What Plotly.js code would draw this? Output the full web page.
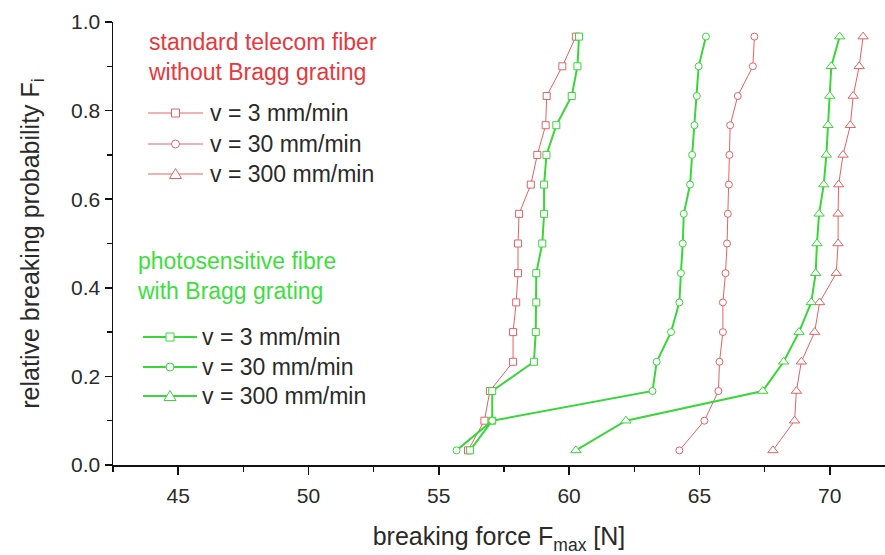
<!DOCTYPE html>
<html>
<head>
<meta charset="utf-8">
<script src="https://cdn.plot.ly/plotly-3.0.1.min.js"></script>
<style>html,body{margin:0;padding:0;background:#fff;}#chart{width:885px;height:555px;}</style>
</head>
<body>
<div id="chart"></div>
<script>
// cumulative breaking probability (15 samples per series)
var probs = [0.033,0.1,0.167,0.233,0.3,0.367,0.433,0.5,0.567,0.633,0.7,0.767,0.833,0.9,0.967];

// standard telecom fiber without Bragg grating
var red3   = [56.12,56.75,56.96,57.85,57.85,57.97,58.04,58.04,58.08,58.53,58.78,59.10,59.14,59.74,60.26];
var red30  = [64.23,65.19,65.73,65.77,65.90,65.90,66.00,66.06,66.09,66.13,66.15,66.18,66.47,67.05,67.11];
var red300 = [67.82,68.65,68.72,68.91,69.42,69.61,70.25,70.32,70.32,70.34,70.51,70.79,70.90,71.13,71.28];

// photosensitive fibre with Bragg grating
var green3   = [56.20,57.05,57.05,58.65,58.72,58.74,58.74,58.97,59.04,59.04,59.13,59.51,60.10,60.32,60.38];
var green30  = [55.68,57.05,63.20,63.36,63.91,64.23,64.29,64.36,64.40,64.64,64.72,64.81,64.90,64.97,65.25];
var green300 = [60.26,62.18,67.43,68.23,68.82,69.29,69.46,69.51,69.59,69.77,69.87,69.93,70.00,70.06,70.38];

var seriesNames = ['v = 3 mm/min','v = 30 mm/min','v = 300 mm/min'];
var symbols = ['square','circle','triangle-up'];
var redHeader = 'standard telecom fiber<br>without Bragg grating';
var greenHeader = 'photosensitive fibre<br>with Bragg grating';

var RED = '#e46264';
var RED_TEXT = '#e8383e';
var GREEN = '#3ad63a';
var GREEN_TEXT = '#3ede3e';
var TEXT = '#2a2a2a';
var fontFam = '"Liberation Sans", Arial, sans-serif';

var markerSizes = [7, 7, 9];

function mk(xs, i, color, lw) {
  return {
    x: xs, y: probs, type: 'scatter', mode: 'lines+markers',
    name: seriesNames[i], showlegend: false,
    line: {color: color, width: lw},
    marker: {symbol: symbols[i], size: markerSizes[i], color: '#ffffff',
             line: {color: color, width: 1}},
    hoverinfo: 'x+y'
  };
}

var data = [
  mk(red3, 0, RED, 1),
  mk(red30, 1, RED, 1),
  mk(red300, 2, RED, 1),
  mk(green3, 0, GREEN, 2),
  mk(green30, 1, GREEN, 2),
  mk(green300, 2, GREEN, 2)
];

// ---- custom legend (drawn in paper coordinates) ----
var W = 885, H = 555, ML = 113, MR = 0, MT = 22, MB = 90;
var PW = W - ML - MR, PH = H - MT - MB;
function px(x) { return (x - ML) / PW; }
function py(y) { return (H - MB - y) / PH; }

var shapes = [], annotations = [];

function legendBlock(header, headerColor, headerX, headerY, rows, lineX0, lineX1, textX, color, lw) {
  annotations.push({
    xref: 'paper', yref: 'paper', x: px(headerX), y: py(headerY),
    xanchor: 'left', yanchor: 'middle', align: 'left', showarrow: false,
    text: header, font: {family: fontFam, size: 23, color: headerColor}
  });
  rows.forEach(function (ry, i) {
    shapes.push({type: 'line', xref: 'paper', yref: 'paper',
      x0: px(lineX0), x1: px(lineX1), y0: py(ry), y1: py(ry),
      line: {color: color, width: lw}});
    var cx = (lineX0 + lineX1) / 2, r;
    if (i === 0) {
      r = 4;
      shapes.push({type: 'rect', xref: 'paper', yref: 'paper',
        x0: px(cx - r), x1: px(cx + r), y0: py(ry + r), y1: py(ry - r),
        fillcolor: '#ffffff', line: {color: color, width: 1}});
    } else if (i === 1) {
      r = 4;
      shapes.push({type: 'circle', xref: 'paper', yref: 'paper',
        x0: px(cx - r), x1: px(cx + r), y0: py(ry + r), y1: py(ry - r),
        fillcolor: '#ffffff', line: {color: color, width: 1}});
    } else {
      var p = 'M' + px(cx) + ',' + py(ry - 5.5) + ' L' + px(cx - 6) + ',' + py(ry + 4.5) +
              ' L' + px(cx + 6) + ',' + py(ry + 4.5) + ' Z';
      shapes.push({type: 'path', xref: 'paper', yref: 'paper', path: p,
        fillcolor: '#ffffff', line: {color: color, width: 1}});
    }
    annotations.push({
      xref: 'paper', yref: 'paper', x: px(textX), y: py(ry),
      xanchor: 'left', yanchor: 'middle', showarrow: false,
      text: seriesNames[i], font: {family: fontFam, size: 23, color: TEXT}
    });
  });
}

legendBlock(redHeader, RED_TEXT, 146, 57, [113, 144, 174], 148, 203, 208, RED, 1);
legendBlock(greenHeader, GREEN_TEXT, 135, 276, [337, 367, 396], 143, 197, 200, GREEN, 2);

var layout = {
  width: W, height: H,
  margin: {l: ML, r: MR, t: MT, b: MB, pad: 0},
  paper_bgcolor: '#ffffff', plot_bgcolor: '#ffffff',
  font: {family: fontFam, size: 21, color: TEXT},
  showlegend: false,
  xaxis: {
    range: [42.5, 72.12], dtick: 5, tick0: 0,
    showgrid: false, zeroline: false,
    showline: true, linecolor: '#111', linewidth: 1.5,
    ticks: 'outside', ticklen: 8, tickwidth: 1.5, tickcolor: '#111',
    minor: {dtick: 2.5, tick0: 0, ticks: 'outside', ticklen: 5, tickwidth: 1.5, tickcolor: '#111', showgrid: false},
    tickfont: {family: fontFam, size: 21, color: TEXT},
    ticklabelstandoff: 3,
    title: {text: 'breaking force F<sub>max</sub> [N]', font: {family: fontFam, size: 25, color: TEXT}, standoff: 22}
  },
  yaxis: {
    range: [0, 1], dtick: 0.2, tick0: 0, tickformat: '.1f',
    showgrid: false, zeroline: false,
    showline: true, linecolor: '#111', linewidth: 1.5,
    ticks: 'outside', ticklen: 7, tickwidth: 1.5, tickcolor: '#111',
    minor: {dtick: 0.1, tick0: 0, ticks: 'outside', ticklen: 5, tickwidth: 1.5, tickcolor: '#111', showgrid: false},
    tickfont: {family: fontFam, size: 21, color: TEXT},
    title: {text: 'relative breaking probability F<sub>i</sub>', font: {family: fontFam, size: 25, color: TEXT}, standoff: 24}
  },
  shapes: shapes,
  annotations: annotations
};

Plotly.newPlot('chart', data, layout, {displayModeBar: false, staticPlot: true});
</script>
</body>
</html>
